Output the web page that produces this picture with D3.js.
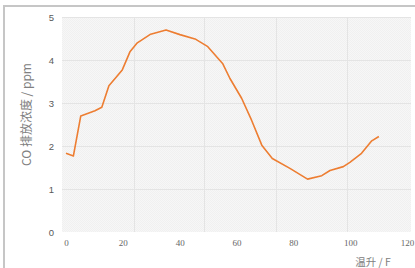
<!DOCTYPE html>
<html><head><meta charset="utf-8">
<script src="https://cdn.jsdelivr.net/npm/d3@7/dist/d3.min.js"></script>
<style>body{margin:0;background:#fff}svg{display:block}</style>
</head><body>
<script>
const tempRise = [0, 2.6, 5.2, 10.2, 12.6, 15.1, 19.8, 22.5, 25.1, 29.8, 35.2, 40.1, 45.4, 49.9, 55.1, 57.7, 61.8, 65.3, 68.9, 72.6, 78.8, 85.0, 90.0, 92.9, 97.6, 99.9, 104.0, 107.6, 110.1];
const coPpm = [1.83, 1.77, 2.70, 2.82, 2.90, 3.40, 3.77, 4.19, 4.40, 4.60, 4.70, 4.59, 4.49, 4.31, 3.92, 3.57, 3.11, 2.60, 2.02, 1.71, 1.48, 1.23, 1.31, 1.43, 1.52, 1.62, 1.83, 2.12, 2.22];
const xTicks = [0, 20, 40, 60, 80, 100, 120];
const yTicks = [0, 1, 2, 3, 4, 5];
const xGrid = [23.9, 48.6, 73.9, 98.9];
const yTitle = "CO 排放浓度 / ppm";
const xTitle = "温升 / F";

const W = 415, H = 268;
const svg = d3.select("body").append("svg").attr("width", W).attr("height", H);

const pl = 62, pr = 411, pt = 17, pb = 232;
const x = d3.scaleLinear().domain([0, 120]).range([66, 407]);
const y = d3.scaleLinear().domain([0, 5]).range([pb, pt]);

// frame
svg.append("line").attr("x1", 4).attr("x2", W).attr("y1", 6).attr("y2", 6)
  .attr("stroke", "#c6c6c6").attr("stroke-width", 2);
svg.append("line").attr("x1", 4).attr("x2", 4).attr("y1", 5).attr("y2", H)
  .attr("stroke", "#c6c6c6").attr("stroke-width", 2);

// plot background with subtle texture
const defs = svg.append("defs");
const pat = defs.append("pattern").attr("id", "tex").attr("width", 2).attr("height", 2)
  .attr("patternUnits", "userSpaceOnUse");
pat.append("rect").attr("width", 2).attr("height", 2).attr("fill", "#f7f7f7");
pat.append("rect").attr("width", 1).attr("height", 1).attr("fill", "#f0f0f0");
pat.append("rect").attr("x", 1).attr("y", 1).attr("width", 1).attr("height", 1).attr("fill", "#f0f0f0");
svg.append("rect").attr("x", pl).attr("y", pt).attr("width", pr - pl).attr("height", pb - pt)
  .attr("fill", "url(#tex)");

// gridlines
svg.append("g").selectAll("line").data(yTicks.slice(1)).join("line")
  .attr("x1", pl).attr("x2", pr).attr("y1", d => Math.round(y(d)) + 0.5).attr("y2", d => Math.round(y(d)) + 0.5)
  .attr("stroke", "#e4e4e4").attr("stroke-width", 1);
svg.append("g").selectAll("line").data(xGrid).join("line")
  .attr("x1", d => Math.round(x(d)) + 0.5).attr("x2", d => Math.round(x(d)) + 0.5).attr("y1", pt).attr("y2", pb)
  .attr("stroke", "#e4e4e4").attr("stroke-width", 1);

// axes (labels only)
const yAxis = d3.axisLeft(y).tickValues(yTicks).tickSize(0).tickPadding(0).tickFormat(d3.format("d"));
const gy = svg.append("g").attr("transform", `translate(${pl - 8},0)`).call(yAxis);
gy.select(".domain").remove();
gy.selectAll("text").attr("font-family", "Liberation Sans, Arial, sans-serif").attr("font-size", 9.5).attr("fill", "#595959");

const xAxis = d3.axisBottom(x).tickValues(xTicks).tickSize(0).tickPadding(0);
const gx = svg.append("g").attr("transform", `translate(0,${pb + 8})`).call(xAxis);
gx.select(".domain").remove();
gx.selectAll("text").attr("font-family", "Liberation Serif, serif").attr("font-size", 9).attr("fill", "#666666");

// titles
svg.append("text").attr("transform", `translate(31,${(pt + pb) / 2 - 10}) rotate(-90)`)
  .attr("text-anchor", "middle").attr("font-family", "Noto Sans CJK SC, sans-serif")
  .attr("font-size", 12).attr("fill", "#808080").text(yTitle);
svg.append("text").attr("x", 373).attr("y", 266).attr("text-anchor", "middle")
  .attr("font-family", "Noto Sans CJK SC, sans-serif").attr("font-size", 10.5).attr("fill", "#808080").text(xTitle);

// line
const pts = tempRise.map((t, i) => [t, coPpm[i]]);
svg.append("path").datum(pts)
  .attr("d", d3.line().x(d => x(d[0])).y(d => y(d[1])))
  .attr("fill", "none").attr("stroke", "#ED7D31").attr("stroke-width", 1.6).attr("stroke-linejoin", "round");
</script>
</body></html>
